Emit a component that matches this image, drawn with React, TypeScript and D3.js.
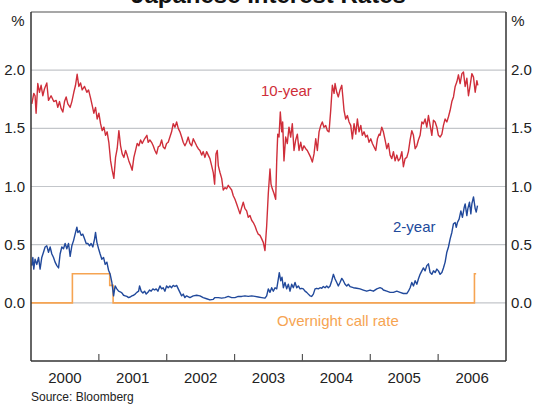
import React from 'react';
import * as d3 from 'd3';

// time is kept as decimal years (2000.5 = mid 2000)
const tenYear: [number, number][] = [
  [2000.012, 1.71], [2000.041, 1.80], [2000.060, 1.78], [2000.075, 1.63], [2000.100, 1.885],
  [2000.125, 1.81], [2000.149, 1.87], [2000.174, 1.78], [2000.199, 1.84], [2000.233, 1.89],
  [2000.258, 1.74], [2000.296, 1.78], [2000.336, 1.73], [2000.370, 1.74], [2000.395, 1.68],
  [2000.420, 1.73], [2000.444, 1.67], [2000.469, 1.64], [2000.494, 1.73], [2000.518, 1.77],
  [2000.543, 1.71], [2000.577, 1.68], [2000.602, 1.73], [2000.631, 1.81], [2000.656, 1.87],
  [2000.680, 1.965], [2000.705, 1.86], [2000.730, 1.89], [2000.754, 1.83], [2000.789, 1.86],
  [2000.823, 1.81], [2000.848, 1.83], [2000.878, 1.76], [2000.901, 1.70], [2000.926, 1.63],
  [2000.951, 1.68], [2000.975, 1.58], [2001.000, 1.63], [2001.025, 1.54], [2001.049, 1.48],
  [2001.074, 1.51], [2001.099, 1.44], [2001.122, 1.47], [2001.147, 1.38], [2001.173, 1.22],
  [2001.196, 1.14], [2001.221, 1.07], [2001.246, 1.25], [2001.270, 1.325], [2001.295, 1.48],
  [2001.320, 1.35], [2001.344, 1.28], [2001.369, 1.25], [2001.394, 1.31], [2001.417, 1.27],
  [2001.442, 1.22], [2001.468, 1.18], [2001.491, 1.14], [2001.516, 1.25], [2001.541, 1.31],
  [2001.565, 1.37], [2001.590, 1.35], [2001.615, 1.40], [2001.639, 1.37], [2001.674, 1.41],
  [2001.708, 1.44], [2001.727, 1.38], [2001.752, 1.40], [2001.777, 1.38], [2001.801, 1.35],
  [2001.826, 1.31], [2001.851, 1.28], [2001.875, 1.34], [2001.900, 1.35], [2001.925, 1.40],
  [2001.948, 1.34], [2001.973, 1.325], [2001.998, 1.37], [2002.022, 1.38], [2002.047, 1.425],
  [2002.072, 1.47], [2002.096, 1.54], [2002.121, 1.51], [2002.146, 1.555], [2002.170, 1.50],
  [2002.195, 1.47], [2002.220, 1.425], [2002.243, 1.38], [2002.268, 1.35], [2002.293, 1.38],
  [2002.317, 1.425], [2002.342, 1.37], [2002.367, 1.35], [2002.391, 1.41], [2002.416, 1.38],
  [2002.441, 1.35], [2002.465, 1.325], [2002.490, 1.31], [2002.515, 1.27], [2002.538, 1.30],
  [2002.563, 1.25], [2002.588, 1.30], [2002.612, 1.27], [2002.637, 1.24], [2002.662, 1.18],
  [2002.686, 1.12], [2002.706, 1.02], [2002.726, 1.28], [2002.745, 1.31], [2002.760, 1.18],
  [2002.785, 1.12], [2002.810, 1.07], [2002.833, 0.97], [2002.858, 0.99], [2002.883, 0.98],
  [2002.907, 1.01], [2002.932, 0.99], [2002.957, 0.97], [2002.981, 0.92], [2003.006, 0.89],
  [2003.031, 0.85], [2003.054, 0.81], [2003.080, 0.765], [2003.105, 0.82], [2003.128, 0.865],
  [2003.153, 0.81], [2003.178, 0.79], [2003.202, 0.735], [2003.227, 0.75], [2003.252, 0.71],
  [2003.276, 0.69], [2003.301, 0.66], [2003.326, 0.62], [2003.349, 0.59], [2003.375, 0.58],
  [2003.400, 0.55], [2003.423, 0.52], [2003.448, 0.45], [2003.473, 0.66], [2003.497, 0.94],
  [2003.522, 1.15], [2003.537, 1.02], [2003.556, 0.98], [2003.581, 0.94], [2003.606, 0.89],
  [2003.621, 1.22], [2003.636, 1.45], [2003.655, 1.425], [2003.674, 1.64], [2003.695, 1.47],
  [2003.709, 1.555], [2003.728, 1.22], [2003.753, 1.425], [2003.777, 1.37], [2003.802, 1.51],
  [2003.827, 1.425], [2003.851, 1.54], [2003.876, 1.31], [2003.901, 1.40], [2003.925, 1.45],
  [2003.950, 1.31], [2003.975, 1.38], [2003.998, 1.31], [2004.023, 1.35], [2004.049, 1.325],
  [2004.072, 1.31], [2004.097, 1.28], [2004.122, 1.25], [2004.146, 1.21], [2004.171, 1.28],
  [2004.196, 1.41], [2004.220, 1.31], [2004.245, 1.47], [2004.270, 1.525], [2004.293, 1.555],
  [2004.318, 1.51], [2004.343, 1.525], [2004.367, 1.48], [2004.392, 1.47], [2004.417, 1.655],
  [2004.441, 1.87], [2004.466, 1.80], [2004.481, 1.885], [2004.506, 1.81], [2004.529, 1.77],
  [2004.554, 1.83], [2004.580, 1.87], [2004.594, 1.78], [2004.613, 1.655], [2004.638, 1.58],
  [2004.662, 1.61], [2004.687, 1.555], [2004.712, 1.525], [2004.736, 1.41], [2004.761, 1.54],
  [2004.786, 1.45], [2004.810, 1.58], [2004.835, 1.47], [2004.860, 1.525], [2004.883, 1.44],
  [2004.908, 1.47], [2004.933, 1.425], [2004.957, 1.44], [2004.982, 1.38], [2005.007, 1.41],
  [2005.031, 1.37], [2005.056, 1.34], [2005.081, 1.31], [2005.105, 1.41], [2005.130, 1.45],
  [2005.144, 1.44], [2005.169, 1.51], [2005.193, 1.47], [2005.218, 1.40], [2005.243, 1.325],
  [2005.267, 1.37], [2005.292, 1.27], [2005.317, 1.24], [2005.341, 1.30], [2005.366, 1.22],
  [2005.391, 1.27], [2005.414, 1.22], [2005.439, 1.24], [2005.465, 1.30], [2005.488, 1.17],
  [2005.513, 1.24], [2005.538, 1.25], [2005.562, 1.30], [2005.587, 1.40], [2005.612, 1.48],
  [2005.636, 1.44], [2005.661, 1.325], [2005.686, 1.35], [2005.709, 1.40], [2005.734, 1.44],
  [2005.760, 1.555], [2005.783, 1.54], [2005.808, 1.58], [2005.833, 1.51], [2005.857, 1.61],
  [2005.882, 1.525], [2005.907, 1.44], [2005.931, 1.57], [2005.956, 1.555], [2005.981, 1.51],
  [2006.004, 1.44], [2006.029, 1.425], [2006.055, 1.45], [2006.078, 1.525], [2006.103, 1.58],
  [2006.128, 1.555], [2006.152, 1.60], [2006.177, 1.655], [2006.202, 1.73], [2006.226, 1.77],
  [2006.251, 1.86], [2006.276, 1.90], [2006.299, 1.96], [2006.324, 1.885], [2006.350, 1.97],
  [2006.373, 1.985], [2006.398, 1.86], [2006.423, 1.93], [2006.447, 1.78], [2006.472, 1.87],
  [2006.497, 1.97], [2006.521, 1.94], [2006.546, 1.81], [2006.571, 1.91], [2006.585, 1.87],
];

const twoYear: [number, number][] = [
  [2000.012, 0.32], [2000.027, 0.39], [2000.041, 0.29], [2000.060, 0.375], [2000.086, 0.33],
  [2000.111, 0.39], [2000.134, 0.29], [2000.159, 0.39], [2000.184, 0.435], [2000.208, 0.48],
  [2000.233, 0.49], [2000.258, 0.435], [2000.282, 0.48], [2000.307, 0.42], [2000.332, 0.39],
  [2000.355, 0.35], [2000.381, 0.32], [2000.406, 0.30], [2000.429, 0.42], [2000.454, 0.48],
  [2000.479, 0.465], [2000.503, 0.51], [2000.528, 0.465], [2000.553, 0.51], [2000.577, 0.40],
  [2000.602, 0.49], [2000.627, 0.535], [2000.650, 0.59], [2000.676, 0.65], [2000.690, 0.605],
  [2000.715, 0.62], [2000.739, 0.58], [2000.764, 0.59], [2000.789, 0.55], [2000.813, 0.51],
  [2000.838, 0.51], [2000.863, 0.49], [2000.886, 0.51], [2000.911, 0.48], [2000.937, 0.55],
  [2000.951, 0.605], [2000.971, 0.52], [2000.996, 0.465], [2001.019, 0.42], [2001.044, 0.375],
  [2001.069, 0.39], [2001.093, 0.33], [2001.118, 0.35], [2001.143, 0.28], [2001.167, 0.245],
  [2001.192, 0.175], [2001.217, 0.06], [2001.240, 0.145], [2001.265, 0.12], [2001.291, 0.10],
  [2001.314, 0.095], [2001.339, 0.085], [2001.364, 0.065], [2001.388, 0.06], [2001.413, 0.055],
  [2001.438, 0.045], [2001.462, 0.05], [2001.487, 0.06], [2001.512, 0.065], [2001.535, 0.075],
  [2001.560, 0.09], [2001.586, 0.10], [2001.600, 0.145], [2001.624, 0.10], [2001.649, 0.085],
  [2001.674, 0.10], [2001.698, 0.075], [2001.723, 0.09], [2001.748, 0.11], [2001.771, 0.10],
  [2001.796, 0.12], [2001.822, 0.11], [2001.845, 0.12], [2001.870, 0.10], [2001.900, 0.145],
  [2001.925, 0.12], [2001.948, 0.13], [2001.973, 0.10], [2001.998, 0.145], [2002.022, 0.13],
  [2002.047, 0.145], [2002.072, 0.13], [2002.096, 0.15], [2002.121, 0.14], [2002.146, 0.15],
  [2002.170, 0.12], [2002.195, 0.09], [2002.220, 0.06], [2002.243, 0.075], [2002.268, 0.045],
  [2002.293, 0.06], [2002.342, 0.045], [2002.391, 0.06], [2002.441, 0.065], [2002.490, 0.06],
  [2002.538, 0.045], [2002.588, 0.035], [2002.637, 0.025], [2002.686, 0.03], [2002.711, 0.045],
  [2002.760, 0.045], [2002.810, 0.04], [2002.858, 0.045], [2002.907, 0.055], [2002.957, 0.045],
  [2003.006, 0.045], [2003.054, 0.055], [2003.105, 0.055], [2003.153, 0.06], [2003.202, 0.055],
  [2003.252, 0.06], [2003.301, 0.055], [2003.349, 0.05], [2003.400, 0.045], [2003.448, 0.04],
  [2003.473, 0.06], [2003.497, 0.12], [2003.522, 0.09], [2003.547, 0.13], [2003.571, 0.10],
  [2003.596, 0.13], [2003.621, 0.12], [2003.645, 0.205], [2003.659, 0.26], [2003.680, 0.19],
  [2003.699, 0.22], [2003.719, 0.13], [2003.743, 0.175], [2003.768, 0.12], [2003.792, 0.16],
  [2003.817, 0.10], [2003.842, 0.16], [2003.866, 0.13], [2003.891, 0.175], [2003.916, 0.13],
  [2003.940, 0.145], [2003.965, 0.12], [2003.990, 0.125], [2004.013, 0.12], [2004.038, 0.10],
  [2004.063, 0.09], [2004.087, 0.075], [2004.112, 0.06], [2004.137, 0.055], [2004.161, 0.075],
  [2004.186, 0.12], [2004.211, 0.125], [2004.234, 0.12], [2004.260, 0.13], [2004.285, 0.125],
  [2004.308, 0.14], [2004.333, 0.13], [2004.358, 0.145], [2004.382, 0.13], [2004.407, 0.145],
  [2004.432, 0.19], [2004.456, 0.245], [2004.481, 0.205], [2004.506, 0.175], [2004.529, 0.145],
  [2004.554, 0.175], [2004.580, 0.21], [2004.603, 0.19], [2004.628, 0.16], [2004.653, 0.145],
  [2004.677, 0.16], [2004.702, 0.14], [2004.751, 0.13], [2004.801, 0.125], [2004.849, 0.12],
  [2004.898, 0.11], [2004.948, 0.10], [2004.997, 0.11], [2005.046, 0.10], [2005.096, 0.12],
  [2005.144, 0.13], [2005.169, 0.125], [2005.193, 0.11], [2005.243, 0.10], [2005.292, 0.09],
  [2005.341, 0.09], [2005.391, 0.10], [2005.439, 0.09], [2005.488, 0.08], [2005.538, 0.08],
  [2005.562, 0.10], [2005.587, 0.13], [2005.612, 0.175], [2005.636, 0.145], [2005.661, 0.19],
  [2005.686, 0.16], [2005.709, 0.205], [2005.734, 0.245], [2005.760, 0.275], [2005.783, 0.30],
  [2005.808, 0.275], [2005.833, 0.32], [2005.857, 0.335], [2005.882, 0.26], [2005.907, 0.245],
  [2005.931, 0.275], [2005.956, 0.26], [2005.981, 0.29], [2006.004, 0.275], [2006.029, 0.245],
  [2006.055, 0.26], [2006.078, 0.30], [2006.103, 0.35], [2006.128, 0.435], [2006.152, 0.48],
  [2006.177, 0.55], [2006.202, 0.605], [2006.226, 0.68], [2006.251, 0.69], [2006.267, 0.65],
  [2006.284, 0.69], [2006.309, 0.72], [2006.335, 0.79], [2006.358, 0.735], [2006.384, 0.82],
  [2006.398, 0.85], [2006.423, 0.75], [2006.438, 0.81], [2006.462, 0.865], [2006.482, 0.765],
  [2006.497, 0.85], [2006.521, 0.91], [2006.546, 0.81], [2006.561, 0.78], [2006.580, 0.835],
];

// overnight call rate target, each value holds until the next change
const callRate: [number, number][] = [
  [2000.0, 0], [2000.61, 0.25], [2001.16, 0.15], [2001.21, 0], [2006.535, 0.25], [2006.56, 0.25],
];

const yTicks = [0, 0.5, 1.0, 1.5, 2.0];
const yearTicks = [2001, 2002, 2003, 2004, 2005, 2006];
const yearLabels = [2000, 2001, 2002, 2003, 2004, 2005, 2006];

const W = 538;
const H = 404;
const left = 31;
const right = 506;
const top = 12;
const bottom = 361;
const font = 'Arial, "Liberation Sans", sans-serif';

const RED = '#cf2e3a';
const BLUE = '#21499b';
const ORANGE = '#f6a452';

export default function App() {
  const x = d3.scaleLinear().domain([2000, 2007]).range([left, right]);
  const y = d3.scaleLinear().domain([-0.5, 2.5]).range([bottom, top]);

  const line = d3.line<[number, number]>()
    .x(d => x(d[0]))
    .y(d => y(d[1]));
  const step = d3.line<[number, number]>()
    .x(d => x(d[0]))
    .y(d => y(d[1]))
    .curve(d3.curveStepAfter);

  return (
    <div style={{ position: 'absolute', left: 0, top: 0 }}>
      <svg width={W} height={H} style={{ display: 'block', fontFamily: font }}>
        <rect width={W} height={H} fill="#fff" />
        <text x={(left + right) / 2} y={3} textAnchor="middle" fontSize={24} fontWeight="bold" fill="#111">
          Japanese Interest Rates
        </text>

        {/* grid */}
        {yTicks.map(t => (
          <line key={t} x1={left} x2={right} y1={y(t)} y2={y(t)} stroke="#c3c6ca" strokeWidth={1.2} />
        ))}

        {/* series */}
        <path d={step(callRate) || ''} fill="none" stroke={ORANGE} strokeWidth={1.6} />
        <path d={line(twoYear) || ''} fill="none" stroke={BLUE} strokeWidth={1.4} strokeLinejoin="round" />
        <path d={line(tenYear) || ''} fill="none" stroke={RED} strokeWidth={1.4} strokeLinejoin="round" />

        {/* frame */}
        <line x1={left} x2={right} y1={top} y2={top} stroke="#8a8a8a" strokeWidth={1.5} />
        <line x1={left} x2={left} y1={top} y2={bottom} stroke="#333" strokeWidth={1.5} />
        <line x1={right} x2={right} y1={top} y2={bottom} stroke="#333" strokeWidth={1.5} />
        <line x1={left} x2={right} y1={bottom} y2={bottom} stroke="#333" strokeWidth={1.5} />

        {yearTicks.map(t => (
          <line key={t} x1={x(t)} x2={x(t)} y1={bottom} y2={bottom - 7} stroke="#555" strokeWidth={1.2} />
        ))}
        {yearLabels.map(t => (
          <text key={t} x={x(t + 0.5)} y={383} textAnchor="middle" fontSize={15} fill="#222">
            {t}
          </text>
        ))}

        {/* y labels */}
        {yTicks.map(t => (
          <React.Fragment key={t}>
            <text x={25} y={y(t) + 5} textAnchor="end" fontSize={15} fill="#222">
              {d3.format('.1f')(t)}
            </text>
            <text x={511} y={y(t) + 5} textAnchor="start" fontSize={15} fill="#222">
              {d3.format('.1f')(t)}
            </text>
          </React.Fragment>
        ))}
        <text x={18} y={26} textAnchor="middle" fontSize={15} fill="#222">%</text>
        <text x={518} y={26} textAnchor="middle" fontSize={15} fill="#222">%</text>

        {/* series labels */}
        <text x={261} y={96} fontSize={15} fill={RED}>10-year</text>
        <text x={393} y={232} fontSize={15} fill={BLUE}>2-year</text>
        <text x={277} y={326} fontSize={15} fill={ORANGE}>Overnight call rate</text>

        <text x={31} y={401} fontSize={12} fill="#222">Source: Bloomberg</text>
      </svg>
    </div>
  );
}
